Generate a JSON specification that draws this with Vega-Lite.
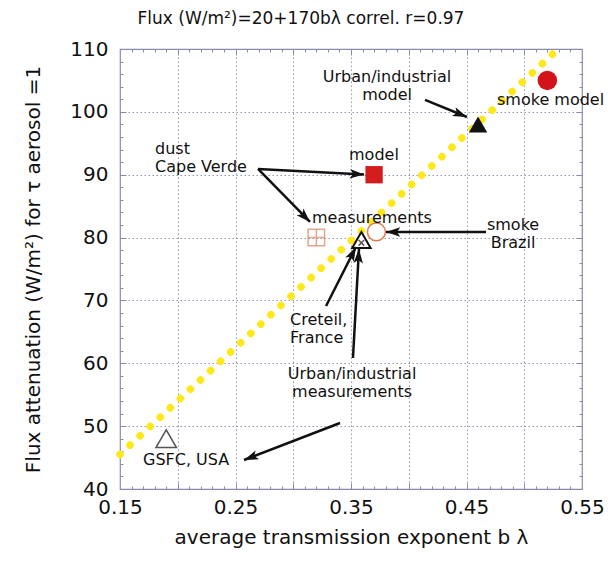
{
  "$schema": "https://vega.github.io/schema/vega-lite/v6.json",
  "width": 462,
  "height": 440,
  "autosize": "none",
  "padding": {"left": 120, "top": 49, "right": 26, "bottom": 72},
  "background": "white",
  "config": {"view": {"stroke": "#8A8AB0", "strokeWidth": 1.2}, "font": "DejaVu Sans"},
  "title": {"text": "Flux (W/m²)=20+170bλ  correl. r=0.97", "fontSize": 17, "font": "DejaVu Sans", "fontWeight": "normal", "color": "#111", "offset": 6, "frame": "group", "anchor": "middle", "dx": -50},
  "datasets": {
    "fit": [{"b": 0.15, "flux": 45.5}, {"b": 0.5294, "flux": 110}],
    "pts": [
      {"name": "GSFC", "b": 0.19, "flux": 48},
      {"name": "dustmeas", "b": 0.32, "flux": 80},
      {"name": "creteil", "b": 0.359, "flux": 79.6},
      {"name": "smokebrazil", "b": 0.372, "flux": 80.9},
      {"name": "dustmodel", "b": 0.37, "flux": 90},
      {"name": "urbanmodel", "b": 0.46, "flux": 98},
      {"name": "smokemodel", "b": 0.52, "flux": 105}
    ],
    "arrows": [
      {"bs": 0.4141, "fs": 101.9, "bt": 0.4504, "ft": 99.18},
      {"bs": 0.2695, "fs": 90.91, "bt": 0.3613, "ft": 90.05},
      {"bs": 0.2695, "fs": 90.91, "bt": 0.3145, "ft": 82.48},
      {"bs": 0.4669, "fs": 80.89, "bt": 0.3803, "ft": 80.89},
      {"bs": 0.3284, "fs": 69.12, "bt": 0.3543, "ft": 78.5},
      {"bs": 0.3517, "fs": 60.84, "bt": 0.3569, "ft": 78.18},
      {"bs": 0.3405, "fs": 50.5, "bt": 0.2574, "ft": 44.62}
    ],
    "labelsL": [
      {"t": "smoke model", "b": 0.4764, "flux": 101.89},
      {"t": "dust", "b": 0.1803, "flux": 94.09},
      {"t": "Cape Verde", "b": 0.1803, "flux": 91.23},
      {"t": "model", "b": 0.3483, "flux": 93.14},
      {"t": "measurements", "b": 0.3162, "flux": 83.11},
      {"t": "Creteil,", "b": 0.2972, "flux": 66.89},
      {"t": "France", "b": 0.2972, "flux": 64.02},
      {"t": "GSFC, USA", "b": 0.1699, "flux": 44.62}
    ],
    "labelsC": [
      {"t": "Urban/industrial", "b": 0.3812, "flux": 105.55},
      {"t": "model", "b": 0.3812, "flux": 102.68},
      {"t": "smoke", "b": 0.4903, "flux": 82.0},
      {"t": "Brazil", "b": 0.4903, "flux": 79.14},
      {"t": "Urban/industrial", "b": 0.3509, "flux": 58.3},
      {"t": "measurements", "b": 0.3509, "flux": 55.44}
    ]
  },
  "resolve": {"axis": {"x": "independent", "y": "independent"}},
  "layer": [
    {
      "data": {"name": "fit"},
      "mark": {"type": "line", "color": "#FFE81A", "strokeWidth": 7.5, "strokeDash": [0.1, 13.6], "strokeCap": "round"},
      "encoding": {
        "x": {"field": "b", "type": "quantitative", "scale": {"domain": [0.15, 0.55], "nice": false, "zero": false},
          "axis": {"orient": "bottom", "values": [0.15, 0.25, 0.35, 0.45, 0.55], "format": ".2f", "grid": false, "ticks": false, "domain": false,
            "labelFontSize": 20, "labelFont": "DejaVu Sans", "labelColor": "#111", "labelPadding": 8, "labelFlush": false, "labelOverlap": false,
            "title": "average transmission exponent b λ", "titleFont": "DejaVu Sans", "titleFontSize": 20, "titleFontWeight": "normal", "titleColor": "#111", "titlePadding": 10}},
        "y": {"field": "flux", "type": "quantitative", "scale": {"domain": [40, 110], "nice": false, "zero": false},
          "axis": {"orient": "left", "values": [40, 50, 60, 70, 80, 90, 100, 110], "format": "d", "grid": false, "ticks": false, "domain": false,
            "labelFontSize": 20, "labelFont": "DejaVu Sans", "labelColor": "#111", "labelPadding": 12, "labelFlush": false, "labelOverlap": false,
            "title": "Flux attenuation (W/m²) for τ aerosol =1", "titleFont": "DejaVu Sans", "titleFontSize": 20, "titleFontWeight": "normal", "titleColor": "#111", "titlePadding": 26}}
      }
    },
    {
      "data": {"name": "pts"},
      "transform": [{"filter": "datum.name == 'GSFC'"}],
      "mark": {"type": "point", "shape": "triangle-up", "filled": false, "stroke": "#555", "strokeWidth": 1.5, "size": 420, "fill": "white", "fillOpacity": 0},
      "encoding": {
        "x": {"field": "b", "type": "quantitative", "scale": {"domain": [0.15, 0.55], "nice": false, "zero": false},
          "axis": {"orient": "bottom", "values": [0.2, 0.25, 0.3, 0.35, 0.4, 0.45, 0.5], "grid": true, "gridColor": "#9494B4", "gridDash": [1.5, 2.5], "gridWidth": 1,
            "labels": false, "domain": false, "ticks": true, "tickSize": -6, "tickColor": "#8A8AB0", "title": null}},
        "y": {"field": "flux", "type": "quantitative", "scale": {"domain": [40, 110], "nice": false, "zero": false},
          "axis": {"orient": "left", "values": [50, 60, 70, 80, 90, 100], "grid": true, "gridColor": "#9494B4", "gridDash": [1.5, 2.5], "gridWidth": 1,
            "labels": false, "domain": false, "ticks": true, "tickSize": -6, "tickColor": "#8A8AB0", "title": null}}
      }
    },
    {
      "data": {"name": "pts"},
      "transform": [{"filter": "datum.name == 'dustmeas'"}],
      "mark": {"type": "point", "shape": "square", "filled": false, "stroke": "#D8845E", "strokeWidth": 1.5, "size": 270},
      "encoding": {
        "x": {"field": "b", "type": "quantitative", "scale": {"domain": [0.15, 0.55], "nice": false, "zero": false},
          "axis": {"orient": "bottom", "values": [0.16, 0.17, 0.18, 0.19, 0.21, 0.22, 0.23, 0.24, 0.26, 0.27, 0.28, 0.29, 0.31, 0.32, 0.33, 0.34, 0.36, 0.37, 0.38, 0.39, 0.41, 0.42, 0.43, 0.44, 0.46, 0.47, 0.48, 0.49, 0.51, 0.52, 0.53, 0.54],
            "grid": false, "labels": false, "domain": false, "ticks": true, "tickSize": -3, "tickColor": "#8A8AB0", "title": null}},
        "y": {"field": "flux", "type": "quantitative", "scale": {"domain": [40, 110], "nice": false, "zero": false},
          "axis": {"orient": "left", "values": [42, 44, 46, 48, 52, 54, 56, 58, 62, 64, 66, 68, 72, 74, 76, 78, 82, 84, 86, 88, 92, 94, 96, 98, 102, 104, 106, 108],
            "grid": false, "labels": false, "domain": false, "ticks": true, "tickSize": -3, "tickColor": "#8A8AB0", "title": null}}
      }
    },
    {
      "data": {"name": "pts"},
      "transform": [{"filter": "datum.name == 'dustmeas'"}],
      "mark": {"type": "point", "shape": "M-1,0L1,0M0,-1L0,1", "filled": false, "stroke": "#D8845E", "strokeWidth": 1.5, "size": 270},
      "encoding": {
        "x": {"field": "b", "type": "quantitative", "scale": {"domain": [0.15, 0.55], "nice": false, "zero": false},
          "axis": {"orient": "top", "values": [0.2, 0.25, 0.3, 0.35, 0.4, 0.45, 0.5], "grid": false, "labels": false, "domain": false, "ticks": true, "tickSize": -6, "tickColor": "#8A8AB0", "title": null}},
        "y": {"field": "flux", "type": "quantitative", "scale": {"domain": [40, 110], "nice": false, "zero": false},
          "axis": {"orient": "right", "values": [50, 60, 70, 80, 90, 100], "grid": false, "labels": false, "domain": false, "ticks": true, "tickSize": -6, "tickColor": "#8A8AB0", "title": null}}
      }
    },
    {
      "data": {"name": "pts"},
      "transform": [{"filter": "datum.name == 'creteil'"}],
      "mark": {"type": "point", "shape": "triangle-up", "filled": true, "fill": "white", "fillOpacity": 1, "stroke": "#111", "strokeWidth": 2, "size": 340},
      "encoding": {
        "x": {"field": "b", "type": "quantitative", "scale": {"domain": [0.15, 0.55], "nice": false, "zero": false},
          "axis": {"orient": "top", "values": [0.16, 0.17, 0.18, 0.19, 0.21, 0.22, 0.23, 0.24, 0.26, 0.27, 0.28, 0.29, 0.31, 0.32, 0.33, 0.34, 0.36, 0.37, 0.38, 0.39, 0.41, 0.42, 0.43, 0.44, 0.46, 0.47, 0.48, 0.49, 0.51, 0.52, 0.53, 0.54],
            "grid": false, "labels": false, "domain": false, "ticks": true, "tickSize": -3, "tickColor": "#8A8AB0", "title": null}},
        "y": {"field": "flux", "type": "quantitative", "scale": {"domain": [40, 110], "nice": false, "zero": false},
          "axis": {"orient": "right", "values": [42, 44, 46, 48, 52, 54, 56, 58, 62, 64, 66, 68, 72, 74, 76, 78, 82, 84, 86, 88, 92, 94, 96, 98, 102, 104, 106, 108],
            "grid": false, "labels": false, "domain": false, "ticks": true, "tickSize": -3, "tickColor": "#8A8AB0", "title": null}}
      }
    },
    {
      "data": {"name": "pts"},
      "transform": [{"filter": "datum.name == 'creteil'"}],
      "mark": {"type": "point", "shape": "M-0.3,0L0.3,0.6M0.3,0L-0.3,0.6", "filled": false, "stroke": "#111", "strokeWidth": 1.5, "size": 340},
      "encoding": {
        "x": {"field": "b", "type": "quantitative", "scale": {"domain": [0.15, 0.55], "nice": false, "zero": false}, "axis": null},
        "y": {"field": "flux", "type": "quantitative", "scale": {"domain": [40, 110], "nice": false, "zero": false}, "axis": null}
      }
    },
    {
      "data": {"name": "pts"},
      "transform": [{"filter": "datum.name == 'smokebrazil'"}],
      "mark": {"type": "point", "shape": "circle", "filled": true, "fill": "white", "fillOpacity": 1, "stroke": "#E07B54", "strokeWidth": 1.5, "size": 320},
      "encoding": {
        "x": {"field": "b", "type": "quantitative", "scale": {"domain": [0.15, 0.55], "nice": false, "zero": false}, "axis": null},
        "y": {"field": "flux", "type": "quantitative", "scale": {"domain": [40, 110], "nice": false, "zero": false}, "axis": null}
      }
    },
    {
      "data": {"name": "pts"},
      "transform": [{"filter": "datum.name == 'dustmodel'"}],
      "mark": {"type": "point", "shape": "square", "filled": true, "color": "#D41E1E", "opacity": 1, "size": 300},
      "encoding": {
        "x": {"field": "b", "type": "quantitative", "scale": {"domain": [0.15, 0.55], "nice": false, "zero": false}, "axis": null},
        "y": {"field": "flux", "type": "quantitative", "scale": {"domain": [40, 110], "nice": false, "zero": false}, "axis": null}
      }
    },
    {
      "data": {"name": "pts"},
      "transform": [{"filter": "datum.name == 'urbanmodel'"}],
      "mark": {"type": "point", "shape": "triangle-up", "filled": true, "color": "#111", "opacity": 1, "size": 340},
      "encoding": {
        "x": {"field": "b", "type": "quantitative", "scale": {"domain": [0.15, 0.55], "nice": false, "zero": false}, "axis": null},
        "y": {"field": "flux", "type": "quantitative", "scale": {"domain": [40, 110], "nice": false, "zero": false}, "axis": null}
      }
    },
    {
      "data": {"name": "pts"},
      "transform": [{"filter": "datum.name == 'smokemodel'"}],
      "mark": {"type": "point", "shape": "circle", "filled": true, "color": "#D3131A", "opacity": 1, "size": 380},
      "encoding": {
        "x": {"field": "b", "type": "quantitative", "scale": {"domain": [0.15, 0.55], "nice": false, "zero": false}, "axis": null},
        "y": {"field": "flux", "type": "quantitative", "scale": {"domain": [40, 110], "nice": false, "zero": false}, "axis": null}
      }
    },
    {
      "data": {"name": "arrows"},
      "mark": {"type": "rule", "color": "#111", "strokeWidth": 2.5},
      "encoding": {
        "x": {"field": "bs", "type": "quantitative", "scale": {"domain": [0.15, 0.55], "nice": false, "zero": false}, "axis": null},
        "y": {"field": "fs", "type": "quantitative", "scale": {"domain": [40, 110], "nice": false, "zero": false}, "axis": null},
        "x2": {"field": "bt"},
        "y2": {"field": "ft"}
      }
    },
    {
      "data": {"name": "arrows"},
      "transform": [{"calculate": "atan2((datum.bt - datum.bs) * 1155, (datum.ft - datum.fs) * 6.286) * 180 / PI", "as": "ang"}],
      "mark": {"type": "point", "shape": "M0,0L-0.5,1.5L0,1.15L0.5,1.5Z", "filled": true, "color": "#111", "opacity": 1, "size": 361},
      "encoding": {
        "x": {"field": "bt", "type": "quantitative", "scale": {"domain": [0.15, 0.55], "nice": false, "zero": false}, "axis": null},
        "y": {"field": "ft", "type": "quantitative", "scale": {"domain": [40, 110], "nice": false, "zero": false}, "axis": null},
        "angle": {"field": "ang", "type": "quantitative", "scale": null}
      }
    },
    {
      "data": {"name": "labelsL"},
      "mark": {"type": "text", "align": "left", "baseline": "middle", "fontSize": 16, "font": "DejaVu Sans", "color": "#111"},
      "encoding": {
        "x": {"field": "b", "type": "quantitative", "scale": {"domain": [0.15, 0.55], "nice": false, "zero": false}, "axis": null},
        "y": {"field": "flux", "type": "quantitative", "scale": {"domain": [40, 110], "nice": false, "zero": false}, "axis": null},
        "text": {"field": "t"}
      }
    },
    {
      "data": {"name": "labelsC"},
      "mark": {"type": "text", "align": "center", "baseline": "middle", "fontSize": 16, "font": "DejaVu Sans", "color": "#111"},
      "encoding": {
        "x": {"field": "b", "type": "quantitative", "scale": {"domain": [0.15, 0.55], "nice": false, "zero": false}, "axis": null},
        "y": {"field": "flux", "type": "quantitative", "scale": {"domain": [40, 110], "nice": false, "zero": false}, "axis": null},
        "text": {"field": "t"}
      }
    }
  ]
}
